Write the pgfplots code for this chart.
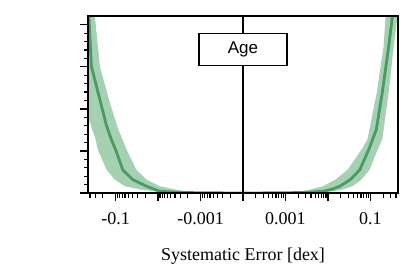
\documentclass[border=0pt]{standalone}
\usepackage{pgfplots}
\pgfplotsset{compat=1.18}
\usepgfplotslibrary{fillbetween}
\usepackage{fontspec}
\setmainfont{Liberation Serif}
\newfontfamily\sansfont{Liberation Sans}
\definecolor{lineg}{RGB}{72,155,98}
\definecolor{bandg}{RGB}{166,208,178}
\begin{document}
\begin{tikzpicture}
\begin{axis}[
  name=ax,
  anchor=south west, at={(0,0)},
  scale only axis, width=310bp, height=177bp,
  xmin=-3.65, xmax=3.65, ymin=0, ymax=4.21,
  axis on top,
  axis line style={line width=1.3bp},
  tick style={line width=1.2bp, black},
  tick align=outside,
  major tick length=8bp, minor tick length=4.5bp,
  xtick pos=lower, ytick pos=left,
  xtick={-3,-2,-1,0,1,2,3},
  xticklabels={-0.1,,-0.001,,0.001,,0.1},
  minor xtick={0.30103,0.47712,0.60206,0.69897,0.77815,0.84510,0.90309,0.95424,
    1.30103,1.47712,1.60206,1.69897,1.77815,1.84510,1.90309,1.95424,
    2.30103,2.47712,2.60206,2.69897,2.77815,2.84510,2.90309,2.95424,
    3.30103,3.47712,3.60206,
    -0.30103,-0.47712,-0.60206,-0.69897,-0.77815,-0.84510,-0.90309,-0.95424,
    -1.30103,-1.47712,-1.60206,-1.69897,-1.77815,-1.84510,-1.90309,-1.95424,
    -2.30103,-2.47712,-2.60206,-2.69897,-2.77815,-2.84510,-2.90309,-2.95424,
    -3.30103,-3.47712,-3.60206},
  ytick={0,1,2,3,4}, yticklabels={},
  minor y tick num=4,
  xticklabel style={font=\fontsize{18bp}{21bp}\selectfont, anchor=base, yshift=-23.5bp},
  xlabel={Systematic Error [dex]},
  xlabel style={font=\fontsize{18bp}{21bp}\selectfont, at={(axis description cs:0.5,0)}, anchor=base, yshift=-67.7bp},
]
% right band
\addplot[name path=ru, draw=none] coordinates {
(0,0) (1.0,0.01) (1.5,0.06) (1.88,0.16) (2.18,0.32) (2.46,0.55) (2.79,1.03) (2.93,1.27) (3.15,2.39) (3.31,3.48) (3.358,4.21)};
\addplot[name path=rl, draw=none] coordinates {
(0,0) (1.5,0.0) (2.0,0.03) (2.3,0.07) (2.58,0.16) (2.79,0.32) (2.98,0.55) (3.17,1.03) (3.28,1.27) (3.43,2.39) (3.55,3.48) (3.639,4.21)};
\addplot[bandg, draw=none] fill between[of=ru and rl];
% left band
\addplot[name path=lu, draw=none] coordinates {
(0,0) (-1.0,0.01) (-1.5,0.06) (-1.96,0.16) (-2.27,0.32) (-2.51,0.55) (-2.74,1.03) (-2.95,1.55) (-3.15,2.2) (-3.37,3.01) (-3.489,4.21) (-3.65,4.21)};
\addplot[name path=ll, draw=none] coordinates {
(0,0) (-1.5,0.0) (-2.0,0.03) (-2.4,0.08) (-2.78,0.16) (-3.02,0.32) (-3.21,0.55) (-3.42,1.03) (-3.47,1.27) (-3.65,1.82)};
\addplot[bandg, draw=none] fill between[of=lu and ll];
% lines
\addplot[lineg, line width=2.8bp] coordinates {
(0,0) (1.0,0.005) (1.5,0.015) (1.88,0.04) (2.1,0.09) (2.28,0.16) (2.53,0.32) (2.75,0.55) (2.96,1.03) (3.05,1.27) (3.14,1.51) (3.28,2.39) (3.43,3.48) (3.519,4.21)};
\addplot[lineg, line width=2.8bp] coordinates {
(0,0) (-1.0,0.005) (-1.5,0.015) (-1.96,0.04) (-2.27,0.16) (-2.6,0.32) (-2.83,0.55) (-3.0,1.03) (-3.1,1.27) (-3.22,1.62) (-3.37,2.22) (-3.57,3.01) (-3.629,4.21)};
% center line
\addplot[black, line width=1.3bp] coordinates {(0,0) (0,4.21)};
\node[draw=black, line width=1.3bp, fill=white, minimum width=88bp, minimum height=32bp, inner sep=0pt,
  font=\sansfont\fontsize{17bp}{20bp}\selectfont] at (axis cs:0,3.41) {Age};
\end{axis}
\path (ax.south west) ++(-88bp,-80bp) rectangle ++(415bp,273bp);
\end{tikzpicture}
\end{document}
